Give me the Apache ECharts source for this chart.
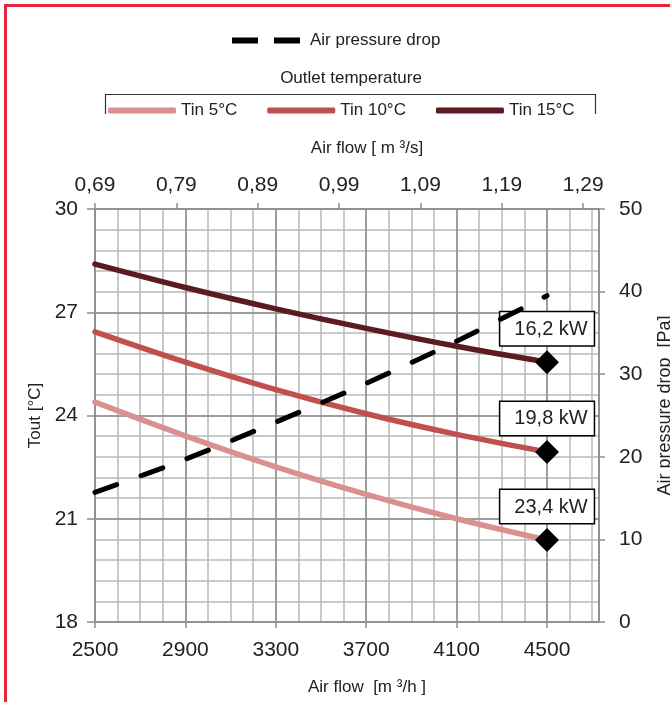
<!DOCTYPE html>
<html>
<head>
<meta charset="utf-8">
<script src="https://cdn.jsdelivr.net/npm/echarts@6/dist/echarts.min.js"></script>
<style>
html,body{margin:0;padding:0;background:#fff;}
#chart{width:670px;height:702px;}
</style>
</head>
<body>
<div id="chart"></div>
<script>
// ---- data ----
var airFlow = [2500, 2900, 3300, 3700, 4100, 4500];           // m3/h
var tin5 = [24.39, 23.41, 22.51, 21.71, 21.00, 20.38];         // Tout °C
var tin10 = [26.43, 25.55, 24.75, 24.05, 23.45, 22.94];
var tin15 = [28.40, 27.72, 27.10, 26.53, 26.01, 25.55];
var pressureDrop = [15.7, 19.7, 24.2, 28.9, 34.0, 39.5];      // Pa
var seriesNames = ['Tin 5°C', 'Tin 10°C', 'Tin 15°C'];
var pressureName = 'Air pressure drop';
var kwLabels = ['23,4 kW', '19,8 kW', '16,2 kW'];

var FONT = 'Liberation Sans';
var TXT = '#222';
var MAJOR = '#8e8e8e';
var MINOR = '#b8b8b8';
var colors = ['#d9908e', '#c0504d', '#5c1b20'];

function pairs(ys) {
  return airFlow.map(function (x, i) { return [x, ys[i]]; });
}
function tempSeries(idx, ys) {
  var d = pairs(ys);
  var last = d.length - 1;
  d[last] = {
    value: d[last],
    symbol: 'diamond',
    symbolSize: [24, 24],
    itemStyle: { color: '#000', borderWidth: 0 },
    label: {
      show: true,
      position: 'top',
      distance: 5,
      formatter: kwLabels[idx],
      fontFamily: FONT,
      fontSize: 20,
      color: TXT,
      backgroundColor: '#fff',
      borderColor: '#000',
      borderWidth: 1.5,
      lineHeight: 22,
      padding: [6, 6, 5, 14]
    }
  };
  return {
    name: seriesNames[idx],
    type: 'line',
    xAxisIndex: 0,
    yAxisIndex: 0,
    smooth: 0.35,
    symbol: 'none',
    showSymbol: true,
    z: 3 + idx,
    lineStyle: { color: colors[idx], width: 5.5, cap: 'round' },
    itemStyle: { color: colors[idx] },
    data: d
  };
}

var chart = echarts.init(document.getElementById('chart'), null, { renderer: 'canvas' });
var option = {
  animation: false,
  backgroundColor: '#fff',
  textStyle: { fontFamily: FONT },
  grid: { left: 95, top: 209, right: 71, bottom: 80, containLabel: false, outerBoundsMode: 'none' },
  legend: [
    {
      data: [{ name: pressureName, icon: 'path://M0,0H26V6H0Z M42,0H68V6H42Z', itemStyle: { color: '#000' } }],
      left: 232, top: 32, padding: 0,
      itemWidth: 68, itemHeight: 6,
      textStyle: { fontSize: 17, color: TXT, fontFamily: FONT, padding: [0, 0, 0, 5] },
      selectedMode: false
    },
    {
      data: seriesNames.map(function (n) { return { name: n, icon: 'roundRect' }; }),
      left: 108, top: 102, padding: 0,
      itemWidth: 68, itemHeight: 6, itemGap: 30,
      textStyle: { fontSize: 17, color: TXT, fontFamily: FONT },
      selectedMode: false
    }
  ],
  xAxis: [
    {
      type: 'value', position: 'bottom',
      min: 2500, max: 4730, interval: 400,
      z: 2,
      name: 'Air flow  [m ³/h ]',
      nameLocation: 'middle', nameGap: 57,
      nameTextStyle: { fontSize: 17, color: TXT, padding: [0, 0, 0, 40] },
      axisLine: { show: true, lineStyle: { color: MAJOR, width: 1.5 } },
      axisTick: { show: true, inside: false, length: 6, lineStyle: { color: MAJOR, width: 1.5 } },
      axisLabel: { fontSize: 21, color: TXT, margin: 18, showMaxLabel: false,
        formatter: function (v) { return String(v); } },
      splitLine: { show: true, lineStyle: { color: MAJOR, width: 1.5 } }
    },
    {
      type: 'value', position: 'top',
      min: 2500, max: 4730, interval: 360,
      z: 2,
      name: 'Air flow [ m ³/s]',
      nameLocation: 'middle', nameGap: 52,
      nameTextStyle: { fontSize: 17, color: TXT, padding: [0, 0, 0, 40] },
      axisLine: { show: true, lineStyle: { color: MAJOR, width: 1.5 } },
      axisTick: { show: true, inside: false, length: 6, lineStyle: { color: MAJOR, width: 1.5 } },
      axisLabel: {
        fontSize: 21, color: TXT, margin: 13, showMaxLabel: false,
        formatter: function (v) { return (v / 3600).toFixed(2).replace('.', ','); }
      },
      splitLine: { show: false }
    },
    {
      type: 'value', position: 'bottom',
      min: 2500, max: 4730, interval: 100,
      z: 0,
      axisLine: { show: false }, axisTick: { show: false }, axisLabel: { show: false },
      splitLine: { show: true, lineStyle: { color: MINOR, width: 1.5 } }
    }
  ],
  yAxis: [
    {
      type: 'value', position: 'left',
      min: 18, max: 30, interval: 3,
      z: 2,
      name: 'Tout [°C]',
      nameLocation: 'middle', nameGap: 49, nameRotate: 90,
      nameTextStyle: { fontSize: 17, color: TXT },
      axisLine: { show: true, lineStyle: { color: MAJOR, width: 1.5 } },
      axisTick: { show: true, inside: false, length: 8, lineStyle: { color: MAJOR, width: 1.5 } },
      axisLabel: { fontSize: 21, color: TXT, margin: 17 },
      splitLine: { show: true, lineStyle: { color: MAJOR, width: 1.5 } }
    },
    {
      type: 'value', position: 'right',
      min: 0, max: 50, interval: 10,
      z: 2,
      name: 'Air pressure drop  [Pa]',
      nameLocation: 'middle', nameGap: 57, nameRotate: 90,
      nameTextStyle: { fontSize: 18, color: TXT, padding: [0, 0, 0, 20] },
      axisLine: { show: true, lineStyle: { color: MAJOR, width: 1.5 } },
      axisTick: { show: true, inside: false, length: 6, lineStyle: { color: MAJOR, width: 1.5 } },
      axisLabel: { fontSize: 21, color: TXT, margin: 20 },
      splitLine: { show: false }
    },
    {
      type: 'value', position: 'left',
      min: 18, max: 30, interval: 0.6,
      z: 0,
      axisLine: { show: false }, axisTick: { show: false }, axisLabel: { show: false },
      splitLine: { show: true, lineStyle: { color: MINOR, width: 1.5 } }
    }
  ],
  series: [
    tempSeries(0, tin5),
    tempSeries(1, tin10),
    tempSeries(2, tin15),
    {
      name: pressureName,
      type: 'line',
      xAxisIndex: 0,
      yAxisIndex: 1,
      smooth: 0.3,
      symbol: 'none',
      z: 8,
      lineStyle: { color: '#000', width: 5, type: [23, 26], cap: 'round' },
      itemStyle: { color: '#000' },
      data: pairs(pressureDrop)
    }
  ],
  graphic: [
    {
      type: 'polyline', silent: true, z: 100,
      shape: { points: [[5.5, 702], [5.5, 5.5], [670, 5.5]] },
      style: { stroke: '#e8243f', lineWidth: 3, fill: null }
    },
    {
      type: 'text', silent: true,
      style: { text: 'Outlet temperature', x: 351, y: 78, align: 'center', verticalAlign: 'middle',
               font: '17px "Liberation Sans"', fill: TXT }
    },
    {
      type: 'polyline', silent: true,
      shape: { points: [[105.5, 114], [105.5, 94.5], [595.5, 94.5], [595.5, 114]] },
      style: { stroke: '#333', lineWidth: 1.2, fill: null }
    }
  ]
};
chart.setOption(option);
</script>
</body>
</html>
